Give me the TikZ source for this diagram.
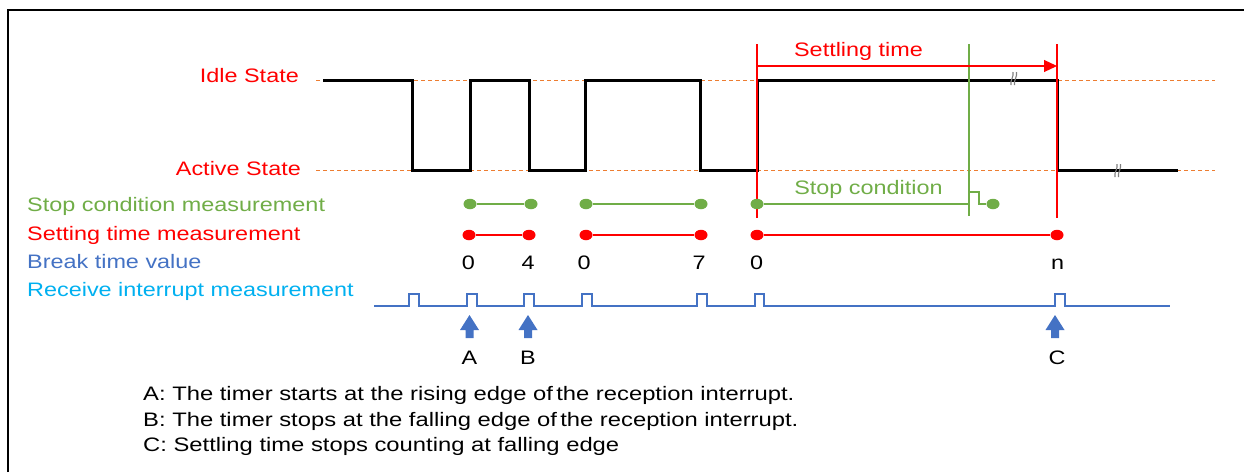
\documentclass[tikz,border=0pt]{standalone}
\usepackage{fontspec}
\setmainfont{Liberation Sans}
\newfontfamily\wfont[FakeStretch=1.2]{Liberation Sans}
\newfontfamily\nfont[FakeStretch=1.22]{Liberation Sans}
\usetikzlibrary{arrows.meta,shapes.geometric}
\definecolor{cred}{HTML}{FF0000}
\definecolor{cgreen}{HTML}{70AD47}
\definecolor{cblue}{HTML}{4472C4}
\definecolor{ccyan}{HTML}{00B0F0}
\definecolor{corange}{HTML}{ED7D31}
\tikzset{
  lbl/.style={font=\wfont\fontsize{19.5}{23}\selectfont, inner sep=0pt, anchor=base},
  note/.style={font=\nfont\fontsize{19.5}{23}\selectfont, inner sep=0pt, anchor=base west},
  sig/.style={line width=3pt, black},
  lvl/.style={corange, line width=0.9pt, dash pattern=on 4pt off 3pt},
  dotg/.style={ellipse, fill=cgreen, inner sep=0pt, minimum width=13pt, minimum height=10.5pt},
  dotr/.style={ellipse, fill=cred, inner sep=0pt, minimum width=13pt, minimum height=10.5pt},
  gline/.style={cgreen, line width=1.5pt},
  rline/.style={cred, line width=1.5pt},
  irq/.style={cblue, line width=1.5pt},
  vred/.style={cred, line width=1.2pt},
  vgreen/.style={cgreen, line width=1.2pt},
  brk/.style={gray, line width=1.1pt},
  pics/uparrow/.style={code={
    \fill[cblue] (0,0) -- (9.5,15) -- (4,15) -- (4,23) -- (-4,23) -- (-4,15) -- (-9.5,15) -- cycle;
  }}
}
\begin{document}
\begin{tikzpicture}[x=1pt,y=-1pt]
\useasboundingbox (0,0) rectangle (1244,472);
% frame
\draw[line width=2pt] (8,472) -- (8,10) -- (1244,10);

% level lines
\coordinate (idleA) at (316,80);
\coordinate (idleB) at (1215,80);
\coordinate (actA) at (316,170);
\coordinate (actB) at (1215,170);
\draw[lvl] (idleA) -- (idleB);
\draw[lvl] (actA) -- (actB);

% labels
\node[lbl, anchor=base east, text=cred] (idle) at (299,82.3) {Idle State};
\node[lbl, anchor=base east, text=cred] (active) at (301,175) {Active State};
\node[lbl, anchor=base west, text=cgreen] (lstop) at (27,211.7) {Stop condition measurement};
\node[lbl, anchor=base west, text=cred] (lset) at (27,240.7) {Setting time measurement};
\node[lbl, anchor=base west, text=cblue] (lbreak) at (27,268) {Break time value};
\node[lbl, anchor=base west, text=ccyan] (lrecv) at (27,296) {Receive interrupt measurement};

% signal
\draw[sig] (323,80) -- (412,80) -- (412,170) -- (470,170) -- (470,80) -- (529,80) -- (529,170)
  -- (585,170) -- (585,80) -- (700,80) -- (700,170) -- (757,170) -- (757,80) -- (1057,80)
  -- (1057,170) -- (1178,170);

% break marks
\draw[brk] (1011,85) .. controls (1010,80) and (1014,77) .. (1013,72)
           (1014.5,85) .. controls (1013.5,80) and (1017.5,77) .. (1016.5,72);
\draw[brk] (1115,177) .. controls (1114,172) and (1118,169) .. (1117,164)
           (1118.5,177) .. controls (1117.5,172) and (1121.5,169) .. (1120.5,164);

% vertical markers
\coordinate (r1t) at (757,44);
\coordinate (r1b) at (757,218);
\coordinate (r2t) at (1057,44);
\coordinate (r2b) at (1057,218);
\coordinate (g1t) at (969,44);
\coordinate (g1b) at (969,216);
\draw[vred] (r1t) -- (r1b);
\draw[vred] (r2t) -- (r2b);
\draw[vgreen] (g1t) -- (g1b);

% settling time arrow
\coordinate (s1) at (757,66);
\coordinate (s2) at (1057,66);
\draw[cred, line width=1.1pt, -{Triangle[length=13pt,width=12pt]}] (s1) -- (s2);
\node[lbl, text=cred] (settle) at (858.5,56.7) {Settling time};

% stop condition
\node[lbl, text=cgreen] (stopc) at (868.5,194) {Stop condition};

% green dots
\node[dotg] (ga1) at (470,204) {};
\node[dotg] (ga2) at (531,204) {};
\node[dotg] (gb1) at (586,204) {};
\node[dotg] (gb2) at (701,204) {};
\node[dotg] (gc1) at (757,204) {};
\node[dotg] (gc2) at (993,204) {};
\draw[gline] (ga1) -- (ga2);
\draw[gline] (gb1) -- (gb2);
\draw[gline] (gc1) -- (969,204) -- (969,192) -- (979,192) -- (979,204) -- (gc2);

% red dots
\node[dotr] (ra1) at (469,235) {};
\node[dotr] (ra2) at (529,235) {};
\node[dotr] (rb1) at (586,235) {};
\node[dotr] (rb2) at (701,235) {};
\node[dotr] (rc1) at (757,235) {};
\node[dotr] (rc2) at (1057,235) {};
\draw[rline] (ra1) -- (ra2);
\draw[rline] (rb1) -- (rb2);
\draw[rline] (rc1) -- (rc2);

% break time values
\node[lbl] (n1) at (468.5,269) {0};
\node[lbl] (n2) at (528,269) {4};
\node[lbl] (n3) at (584,269) {0};
\node[lbl] (n4) at (699,269) {7};
\node[lbl] (n5) at (756.5,269) {0};
\node[lbl] (n6) at (1057.5,269) {n};

% receive interrupt
\coordinate (ia) at (374,306);
\coordinate (ib) at (1170,306);
\draw[irq] (ia) -- (409,306) -- (409,294) -- (419,294) -- (419,306)
  -- (467,306) -- (467,294) -- (477,294) -- (477,306)
  -- (524,306) -- (524,294) -- (534,294) -- (534,306)
  -- (582,306) -- (582,294) -- (592,294) -- (592,306)
  -- (697,306) -- (697,294) -- (707,294) -- (707,306)
  -- (755,306) -- (755,294) -- (764,294) -- (764,306)
  -- (1055,306) -- (1055,294) -- (1065,294) -- (1065,306) -- (ib);

% arrows
\pic at (469.5,315) {uparrow};
\pic at (528,315) {uparrow};
\pic at (1055,315) {uparrow};
\node[lbl] (la) at (469.5,364) {A};
\node[lbl] (lb) at (528,364) {B};
\node[lbl] (lc) at (1057,364) {C};

% notes
\node[note] (na) at (143,400.7) {A: The timer starts at the rising edge of\,the reception interrupt.};
\node[note] (nb) at (143,426.7) {B: The timer stops at the falling edge of\,the reception interrupt.};
\node[note] (nc) at (143,451.7) {C: Settling time stops counting at falling edge};
\end{tikzpicture}
\end{document}
